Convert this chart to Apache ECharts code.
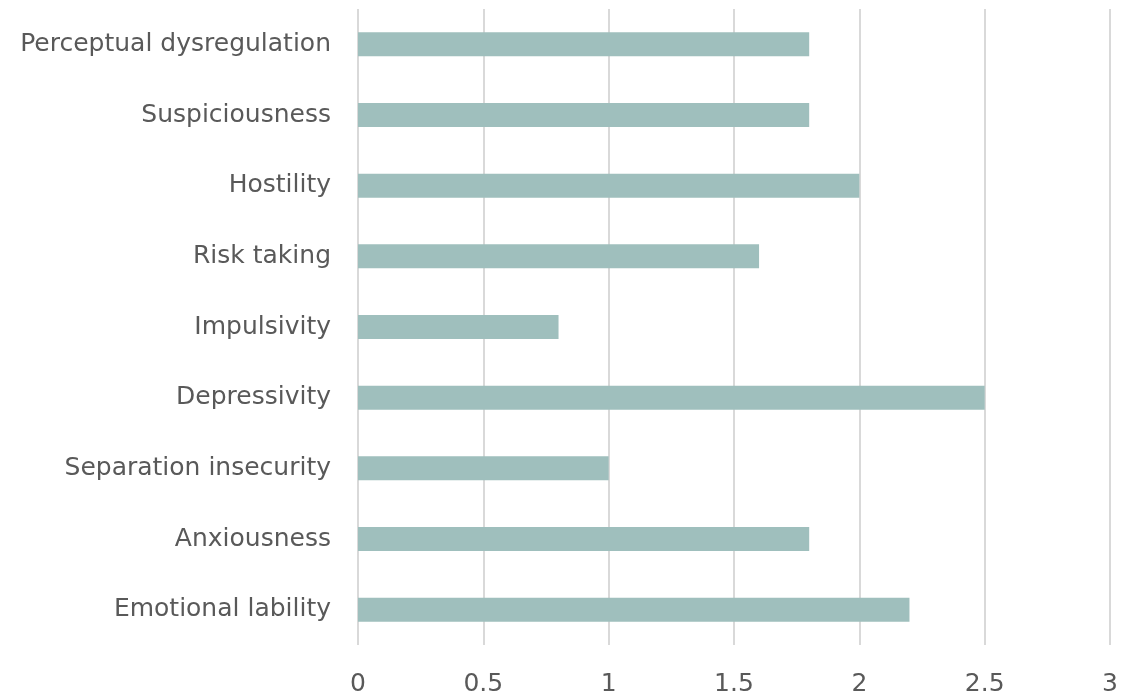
<!DOCTYPE html>
<html><head><meta charset="utf-8">
<script src="https://cdn.jsdelivr.net/npm/echarts@6/dist/echarts.min.js"></script>
<style>html,body{margin:0;padding:0;background:#fff}#c{width:1121px;height:698px}</style>
</head><body><div id="c"></div>
<script>
const categories = ["Emotional lability","Anxiousness","Separation insecurity","Depressivity","Impulsivity","Risk taking","Hostility","Suspiciousness","Perceptual dysregulation"];
const values = [2.2, 1.8, 1.0, 2.5, 0.8, 1.6, 2.0, 1.8, 1.8];
const tickLabels = ["0","0.5","1","1.5","2","2.5","3"];
const chart = echarts.init(document.getElementById('c'));
const font = '"DejaVu Sans", sans-serif';
chart.setOption({
  animation:false,
  grid:{left:358,right:11,top:9,bottom:53},
  xAxis:{type:'value',min:0,max:3,interval:0.5,
    axisLine:{show:false},axisTick:{show:false},
    splitLine:{lineStyle:{color:'#d9d9d9',width:2}},
    axisLabel:{margin:27,fontSize:25,color:'#595959',fontFamily:font,
      formatter:v=>tickLabels[Math.round(v/0.5)]}},
  yAxis:{type:'category',data:categories,
    axisLine:{show:false},axisTick:{show:false},
    axisLabel:{margin:27,fontSize:25,color:'#595959',fontFamily:font,padding:[4,0,0,0]}},
  series:[{type:'bar',data:values,barWidth:24,itemStyle:{color:'#9fbfbd'}}]
});
</script></body></html>
